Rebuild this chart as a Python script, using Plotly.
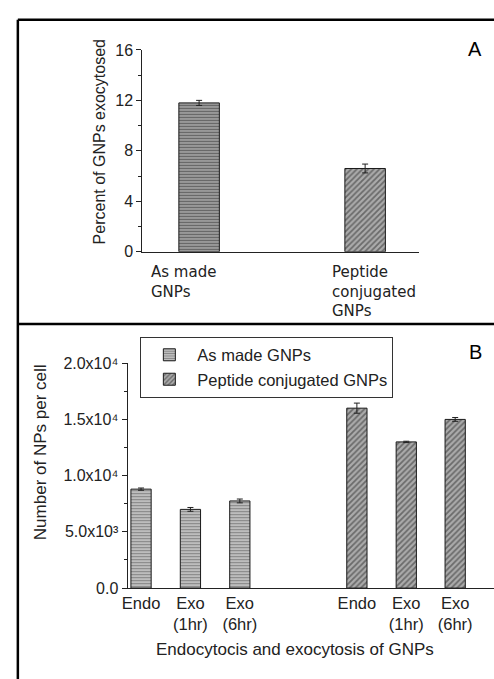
import plotly.graph_objects as go

# ---------------- data ----------------
panelA_labels = ["As made<br>GNPs", "Peptide<br>conjugated<br>GNPs"]
panelA_values = [11.8, 6.6]
panelA_errors = [0.2, 0.35]

panelB_labels = ["Endo", "Exo<br>(1hr)", "Exo<br>(6hr)"]
as_made_values = [8800, 7000, 7750]
as_made_errors = [100, 170, 170]
peptide_values = [16000, 13000, 15000]
peptide_errors = [450, 60, 170]

yB_tickvals = [0, 5000, 10000, 15000, 20000]
yB_ticktext = ["0.0", "5.0x10³", "1.0x10⁴", "1.5x10⁴", "2.0x10⁴"]

# ---------------- layout helpers ----------------
W, H = 494, 679
def px(x):
    return x / W
def py(y):
    return 1 - y / H

as_made_pos = [1, 2, 3]
peptide_pos = [5.37, 6.37, 7.36]

FONT = "Liberation Sans, Arial, sans-serif"
hpatA = dict(shape="-", size=3, solidity=0.5, fgcolor="#222222", bgcolor="#a8a8a8")
hpatB = dict(shape="-", size=3, solidity=0.5, fgcolor="#3a3a3a", bgcolor="#cfcfcf")
dpat = dict(shape="/", size=4, solidity=0.45, fgcolor="#2a2a2a", bgcolor="#ababab")

fig = go.Figure()

# Panel A
fig.add_trace(go.Bar(
    x=[panelA_labels[0]], y=[panelA_values[0]], width=0.244,
    marker=dict(color="#a8a8a8", pattern=hpatA, line=dict(color="#1a1a1a", width=1)),
    error_y=dict(type="data", array=[panelA_errors[0]], color="#222", thickness=1, width=3),
    xaxis="x", yaxis="y", showlegend=False))
fig.add_trace(go.Bar(
    x=[panelA_labels[1]], y=[panelA_values[1]], width=0.244,
    marker=dict(color="#ababab", pattern=dpat, line=dict(color="#1a1a1a", width=1)),
    error_y=dict(type="data", array=[panelA_errors[1]], color="#222", thickness=1, width=3),
    xaxis="x", yaxis="y", showlegend=False))

# Panel B
fig.add_trace(go.Bar(
    name="As made GNPs", x=as_made_pos, y=as_made_values, width=0.41,
    marker=dict(color="#cfcfcf", pattern=hpatB, line=dict(color="#1a1a1a", width=1)),
    error_y=dict(type="data", array=as_made_errors, color="#222", thickness=1, width=3),
    xaxis="x2", yaxis="y2"))
fig.add_trace(go.Bar(
    name="Peptide conjugated GNPs", x=peptide_pos, y=peptide_values, width=0.41,
    marker=dict(color="#ababab", pattern=dpat, line=dict(color="#1a1a1a", width=1)),
    error_y=dict(type="data", array=peptide_errors, color="#222", thickness=1, width=3),
    xaxis="x2", yaxis="y2"))

axis_common = dict(showline=True, linecolor="#222", linewidth=1, showgrid=False,
                   zeroline=False, mirror=False)

fig.update_layout(
    width=W, height=H, margin=dict(l=0, r=0, t=0, b=0),
    paper_bgcolor="white", plot_bgcolor="white",
    font=dict(family=FONT, color="#222"),
    barmode="overlay",
    xaxis=dict(domain=[px(138), px(418)], anchor="y", type="category",
               range=[-0.342, 1.324], showticklabels=False, ticks="", **axis_common),
    yaxis=dict(domain=[py(250), py(43)], anchor="x", range=[0, 16],
               tickvals=[0, 4, 8, 12, 16], ticks="outside", ticklen=5, tickcolor="#222",
               minor=dict(dtick=2, ticks="outside", ticklen=3, tickcolor="#222"),
               tickfont=dict(size=16, family=FONT), **axis_common),
    xaxis2=dict(domain=[px(123), 1], anchor="y2", range=[0.726, 8.146],
                tickvals=as_made_pos + peptide_pos, ticktext=panelB_labels + panelB_labels,
                ticks="", tickfont=dict(size=16.5, family=FONT), **axis_common),
    yaxis2=dict(domain=[py(595), py(364.3)], anchor="x2", range=[0, 20000],
                tickvals=yB_tickvals, ticktext=yB_ticktext,
                ticks="outside", ticklen=5, tickcolor="#222",
                minor=dict(dtick=2500, ticks="outside", ticklen=3, tickcolor="#222"),
                tickfont=dict(size=16, family=FONT), **axis_common),
    legend=dict(x=px(136), y=py(337), xanchor="left", yanchor="top",
                bordercolor="#333", borderwidth=1, bgcolor="white",
                font=dict(size=16.5, family=FONT), tracegroupgap=0,
                itemwidth=46),
)

# frame
frame = dict(color="black", width=2.5)
fig.add_shape(type="line", xref="paper", yref="paper", x0=px(12), y0=py(12), x1=1.05, y1=py(12), line=frame)
fig.add_shape(type="line", xref="paper", yref="paper", x0=px(12), y0=py(12), x1=px(12), y1=-0.05, line=frame)
fig.add_shape(type="line", xref="paper", yref="paper", x0=px(12), y0=py(324), x1=1.05, y1=py(324), line=frame)

ann = []
# panel A category labels
ann.append(dict(text=panelA_labels[0], x=px(145), y=py(259), xanchor="left", yanchor="top",
                align="left", font=dict(size=15, family="DejaVu Sans")))
ann.append(dict(text=panelA_labels[1], x=px(328), y=py(259), xanchor="left", yanchor="top",
                align="left", font=dict(size=15, family="DejaVu Sans")))
# axis titles
ann.append(dict(text="Percent of GNPs exocytosed", x=px(95), y=py(137), textangle=-90,
                xanchor="center", yanchor="middle", font=dict(size=16, family=FONT)))
ann.append(dict(text="Number of NPs per cell", x=px(35), y=py(456), textangle=-90,
                xanchor="center", yanchor="middle", font=dict(size=17, family=FONT)))
ann.append(dict(text="Endocytocis and exocytosis of GNPs", x=px(293), y=py(658),
                xanchor="center", yanchor="middle", font=dict(size=17, family=FONT)))
# panel letters
ann.append(dict(text="A", x=px(475), y=py(42), xanchor="center", yanchor="middle",
                font=dict(size=20, family=FONT, color="black")))
ann.append(dict(text="B", x=px(475), y=py(353), xanchor="center", yanchor="middle",
                font=dict(size=20, family=FONT, color="black")))
for a in ann:
    a.update(xref="paper", yref="paper", showarrow=False)
fig.update_layout(annotations=ann)

fig.write_html(
    "out.html",
    config={"displayModeBar": False},
    post_script="document.body.style.margin='0';document.body.style.overflow='hidden';"
                "document.documentElement.style.overflow='hidden';",
)
